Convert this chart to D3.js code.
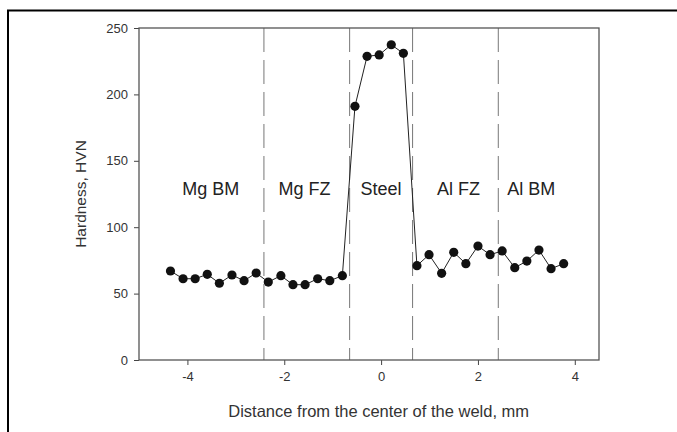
<!DOCTYPE html>
<html>
<head>
<meta charset="utf-8">
<script src="https://cdn.jsdelivr.net/npm/d3@7"></script>
<style>
  html, body { margin: 0; padding: 0; background: #fff; }
  svg { display: block; font-family: "Liberation Sans", Arial, sans-serif; }
</style>
</head>
<body>
<div id="chart"></div>
<script>
// distance from weld centre (mm) and hardness (HVN)
const distance = [
    -4.35, -4.09, -3.84, -3.59, -3.34, -3.08, -2.83, -2.58, -2.33, -2.07,
    -1.82, -1.57, -1.31, -1.06, -0.80,
    -0.54, -0.29, -0.04, 0.21, 0.46,
    0.74, 0.99, 1.25, 1.50, 1.75, 2.00, 2.25, 2.50, 2.76, 3.01,
    3.26, 3.51, 3.77
]
const hardness = [
    67, 61.2, 61.2, 64.5, 57.8, 64, 59.7, 65.5, 58.7, 63.5,
    56.7, 56.7, 61.2, 59.7, 63.5,
    191, 228.7, 229.7, 237.4, 230.9,
    71, 79.3, 65.3, 81.1, 72.5, 85.8, 79.3, 82.1, 69.5, 74.5,
    82.8, 68.8, 72.5
]
const zoneBounds = [-2.42, -0.65, 0.65, 2.42]
const zoneLabels = ["Mg BM", "Mg FZ", "Steel", "Al FZ", "Al BM"]
const zoneLabelX = [-3.52, -1.58, 0, 1.6, 3.1]
const xTicks = [-4, -2, 0, 2, 4]
const yTicks = [0, 50, 100, 150, 200, 250]

const W = 677, H = 432
const margin = { top: 28, right: 78, bottom: 72, left: 139 }
const width = W - margin.left - margin.right
const height = H - margin.top - margin.bottom

const svg = d3.select("#chart").append("svg")
    .attr("width", W)
    .attr("height", H)

// outer frame of the figure (runs off the right and bottom edge)
svg.append("rect")
    .attr("x", 8).attr("y", 10.5)
    .attr("width", W + 10).attr("height", H + 10)
    .attr("fill", "none")
    .attr("stroke", "#000")
    .attr("stroke-width", 2)

const g = svg.append("g")
    .attr("transform", "translate(" + margin.left + "," + margin.top + ")")

const xScale = d3.scaleLinear().domain([-5, 4.5]).range([0, width])
const yScale = d3.scaleLinear().domain([0, 250]).range([height, 0])

// zone boundaries
g.selectAll(".zone")
    .data(zoneBounds)
    .enter()
    .append("line")
    .attr("x1", d => xScale(d)).attr("x2", d => xScale(d))
    .attr("y1", 0).attr("y2", height)
    .attr("stroke", "#777")
    .attr("stroke-width", 1)
    .attr("stroke-dasharray", "24,8")

g.selectAll(".zone-label")
    .data(zoneLabels)
    .enter()
    .append("text")
    .attr("x", (d, i) => xScale(zoneLabelX[i]))
    .attr("y", yScale(124))
    .attr("text-anchor", "middle")
    .attr("font-size", 18)
    .attr("fill", "#222")
    .text(d => d)

// data line + markers
const pts = distance.map((d, i) => ({ x: d, y: hardness[i] }))
g.append("path")
    .datum(pts)
    .attr("fill", "none")
    .attr("stroke", "#222")
    .attr("stroke-width", 1)
    .attr("d", d3.line().x(d => xScale(d.x)).y(d => yScale(d.y)))

g.selectAll("circle")
    .data(pts)
    .enter()
    .append("circle")
    .attr("cx", d => xScale(d.x))
    .attr("cy", d => yScale(d.y))
    .attr("r", 4.6)
    .attr("fill", "#111")

// axes (hyphen minus like the original)
const fmt = d => String(d)
const xAxis = g.append("g")
    .attr("transform", "translate(0," + height + ")")
    .call(d3.axisBottom(xScale).tickValues(xTicks).tickFormat(fmt).tickSize(5).tickPadding(7).tickSizeOuter(0))
const yAxis = g.append("g")
    .call(d3.axisLeft(yScale).tickValues(yTicks).tickFormat(fmt).tickSize(5).tickPadding(6).tickSizeOuter(0))

;[xAxis, yAxis].forEach(a => {
    a.select(".domain").remove()
    a.selectAll("line").attr("stroke", "#444")
    a.selectAll("text")
        .attr("font-size", 13)
        .attr("font-family", "Liberation Sans, Arial, sans-serif")
        .attr("fill", "#333")
})

// plot frame
g.append("rect")
    .attr("width", width).attr("height", height)
    .attr("fill", "none")
    .attr("stroke", "#555")
    .attr("stroke-width", 1.3)

svg.append("text")
    .attr("x", margin.left + xScale(-0.05))
    .attr("y", 417)
    .attr("text-anchor", "middle")
    .attr("font-size", 16.5)
    .attr("fill", "#333")
    .text("Distance from the center of the weld, mm")

svg.append("text")
    .attr("transform", "translate(86," + (margin.top + height / 2) + ") rotate(-90)")
    .attr("text-anchor", "middle")
    .attr("font-size", 15.5)
    .attr("fill", "#333")
    .text("Hardness, HVN")
</script>
</body>
</html>
